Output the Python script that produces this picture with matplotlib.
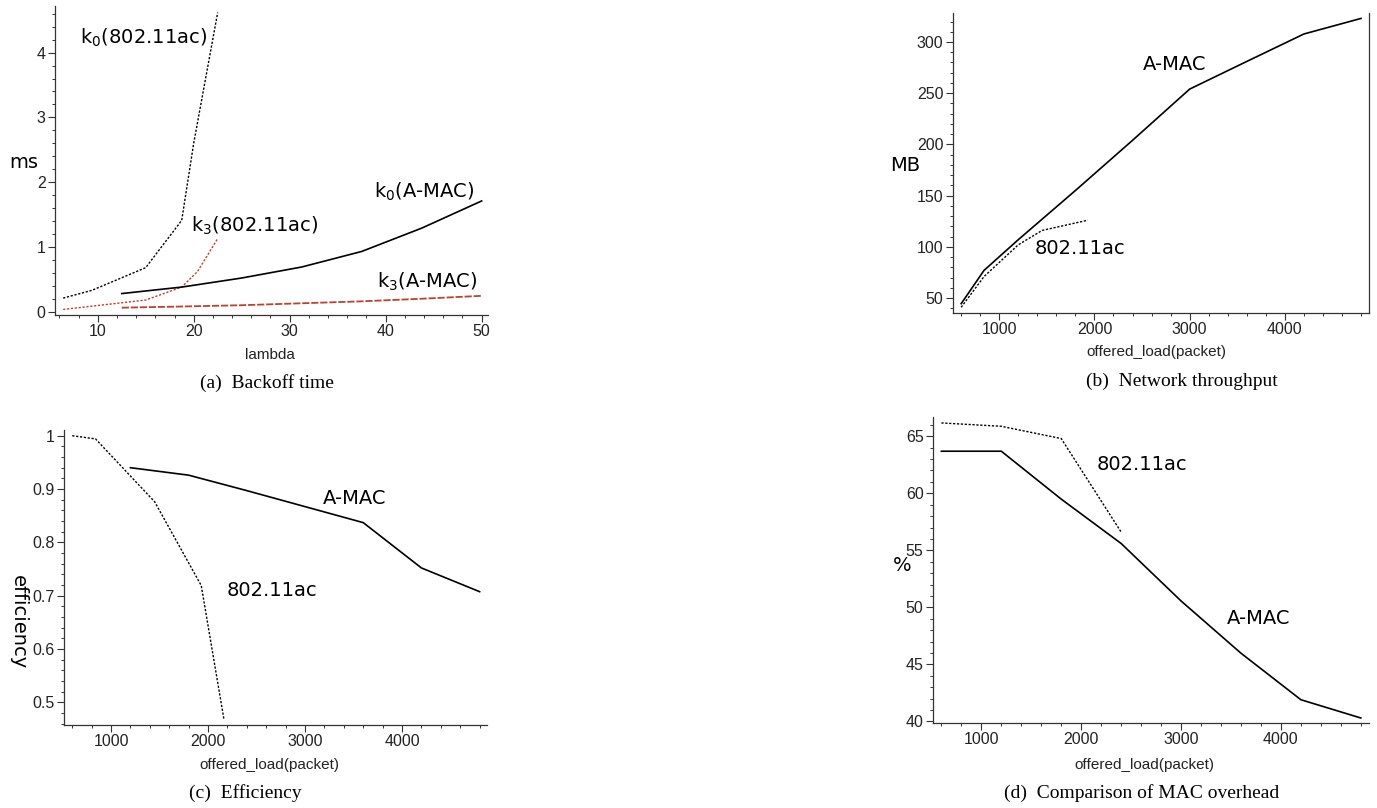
import matplotlib
matplotlib.use("Agg")
import matplotlib.pyplot as plt
from matplotlib.ticker import MultipleLocator, FormatStrFormatter

# (a) backoff time vs lambda
lam_k0_ac = [6.4, 9.4, 15.0, 18.75, 20.0, 22.5]
k0_ac = [0.21, 0.33, 0.68, 1.41, 2.6, 4.62]
lam_k3_ac = [6.4, 15.0, 18.75, 20.4, 22.5]
k3_ac = [0.035, 0.18, 0.38, 0.62, 1.13]
lam_amac = [12.5, 18.75, 25.0, 31.25, 37.5, 43.75, 50.0]
k0_amac = [0.28, 0.38, 0.52, 0.69, 0.93, 1.29, 1.71]
k3_amac = [0.062, 0.08, 0.10, 0.13, 0.16, 0.20, 0.245]

# (b) throughput
load_amac = [600, 840, 1200, 1800, 2400, 3000, 3600, 4200, 4800]
thr_amac = [44.5, 77, 107, 155, 204, 254, 281, 307.8, 323]
load_ac_b = [600, 840, 1200, 1450, 1930]
thr_ac = [41, 71, 102, 116, 126]

# (c) efficiency
load_eff_amac = [1200, 1800, 2400, 3000, 3600, 4200, 4800]
eff_amac = [0.94, 0.926, 0.897, 0.867, 0.837, 0.752, 0.7075]
load_eff_ac = [600, 840, 1450, 1930, 2165]
eff_ac = [1.0, 0.994, 0.876, 0.719, 0.467]

# (d) MAC overhead
load_ovh_amac = [600, 1200, 1800, 2400, 3000, 3600, 4200, 4800]
ovh_amac = [63.69, 63.69, 59.49, 55.6, 50.56, 45.98, 41.9, 40.3]
load_ovh_ac = [600, 1200, 1800, 2400]
ovh_ac = [66.17, 65.875, 64.8, 56.6]

RED = "#b8442e"
DOT = (0, (1.6, 1.2))
ANN = dict(fontsize=14, family="DejaVu Sans", ha="center", va="center", color="black")

W, H = 1377, 808
fig = plt.figure(figsize=(W / 100, H / 100), dpi=100)


def axes_px(l, t, r, b):
    return fig.add_axes([l / W, 1 - b / H, (r - l) / W, (b - t) / H])


def style(ax, xmaj, xmin, ymaj, ymin, xlabel, ylabel, ylpos, yrot=0, right=False):
    for s in ("top", "right"):
        ax.spines[s].set_visible(False)
    if right:
        ax.spines["right"].set_visible(True)
    for s in ax.spines.values():
        s.set_color("#333333"); s.set_linewidth(0.9)
    ax.xaxis.set_major_locator(MultipleLocator(xmaj))
    ax.xaxis.set_minor_locator(MultipleLocator(xmin))
    ax.yaxis.set_major_locator(MultipleLocator(ymaj))
    ax.yaxis.set_minor_locator(MultipleLocator(ymin))
    ax.yaxis.set_major_formatter(FormatStrFormatter("%g"))
    ax.tick_params(which="major", direction="out", length=4.8, width=0.8, color="#333333",
                   labelsize=11.5, labelcolor="#222222", pad=2)
    ax.tick_params(which="minor", direction="out", length=2.4, width=0.7, color="#333333")
    ax.tick_params(axis="y", right=False)
    for lab in ax.get_xticklabels() + ax.get_yticklabels():
        lab.set_family("Liberation Sans")
    ax.set_xlabel(xlabel, fontsize=11, family="Liberation Sans", color="#222222")
    ax.xaxis.set_label_coords(0.49, -0.11)
    ax.set_ylabel(ylabel, fontsize=14, family="DejaVu Sans", rotation=yrot, va="center", ha="center")
    ax.yaxis.set_label_coords(*ylpos)


# (a)
ax = axes_px(55, 6, 488, 315)
ax.plot(lam_k0_ac, k0_ac, color="black", lw=1.0, ls=DOT)
ax.plot(lam_k3_ac, k3_ac, color=RED, lw=1.0, ls=DOT)
ax.plot(lam_amac, k0_amac, color="black", lw=1.2)
ax.plot(lam_amac, k3_amac, color=RED, lw=1.3, ls=(0, (4, 1)))
ax.set_xlim(5.55, 50.66); ax.set_ylim(-0.051, 4.72)
style(ax, 10, 2, 1, 0.2, "lambda", "ms", (-0.072, 0.492))
ax.xaxis.set_label_coords(0.497, -0.107)
ax.text(14.8, 4.23, r"k$_0$(802.11ac)", **ANN)
ax.text(26.35, 1.33, r"k$_3$(802.11ac)", **ANN)
ax.text(44.06, 1.845, r"k$_0$(A-MAC)", **ANN)
ax.text(44.3, 0.454, r"k$_3$(A-MAC)", **ANN)

# (b)
ax = axes_px(953, 13, 1369, 313)
ax.plot(load_amac, thr_amac, color="black", lw=1.2)
ax.plot(load_ac_b, thr_ac, color="black", lw=1.0, ls=DOT)
ax.set_xlim(514, 4884); ax.set_ylim(35.4, 328.3)
style(ax, 1000, 200, 50, 10, "offered_load(packet)", "MB", (-0.114, 0.493), right=True)
ax.xaxis.set_label_coords(0.488, -0.107)
ax.text(2842, 277.8, "A-MAC", **ANN)
ax.text(1847, 98.8, "802.11ac", **ANN)

# (c)
ax = axes_px(64, 430, 487, 725)
ax.plot(load_eff_amac, eff_amac, color="black", lw=1.2)
ax.plot(load_eff_ac, eff_ac, color="black", lw=1.0, ls=DOT)
ax.set_xlim(515, 4876); ax.set_ylim(0.4575, 1.0107)
style(ax, 1000, 200, 0.1, 0.02, "offered_load(packet)", "efficiency", (-0.109, 0.35), yrot=270)
ax.xaxis.set_label_coords(0.486, -0.113)
ax.text(3506, 0.8825, "A-MAC", **ANN)
ax.text(2660, 0.709, "802.11ac", **ANN)

# (d)
ax = axes_px(933, 417, 1369, 723)
ax.plot(load_ovh_amac, ovh_amac, color="black", lw=1.2)
ax.plot(load_ovh_ac, ovh_ac, color="black", lw=1.0, ls=DOT)
ax.set_xlim(516, 4882); ax.set_ylim(39.86, 66.69)
style(ax, 1000, 200, 5, 1, "offered_load(packet)", "%", (-0.07, 0.516))
ax.xaxis.set_label_coords(0.485, -0.114)
ax.text(2605, 62.5, "802.11ac", **ANN)
ax.text(3777, 49.04, "A-MAC", **ANN)

# captions
CAP = dict(fontsize=14, family="Liberation Serif", ha="center", va="center")
fig.text(267 / W, 1 - 383 / H, "(a)  Backoff time", **CAP)
fig.text(1182 / W, 1 - 381 / H, "(b)  Network throughput", **CAP)
fig.text(245 / W, 1 - 793 / H, "(c)  Efficiency", **CAP)
fig.text(1142 / W, 1 - 793 / H, "(d)  Comparison of MAC overhead", **CAP)

fig.savefig("out.png", dpi=100)
